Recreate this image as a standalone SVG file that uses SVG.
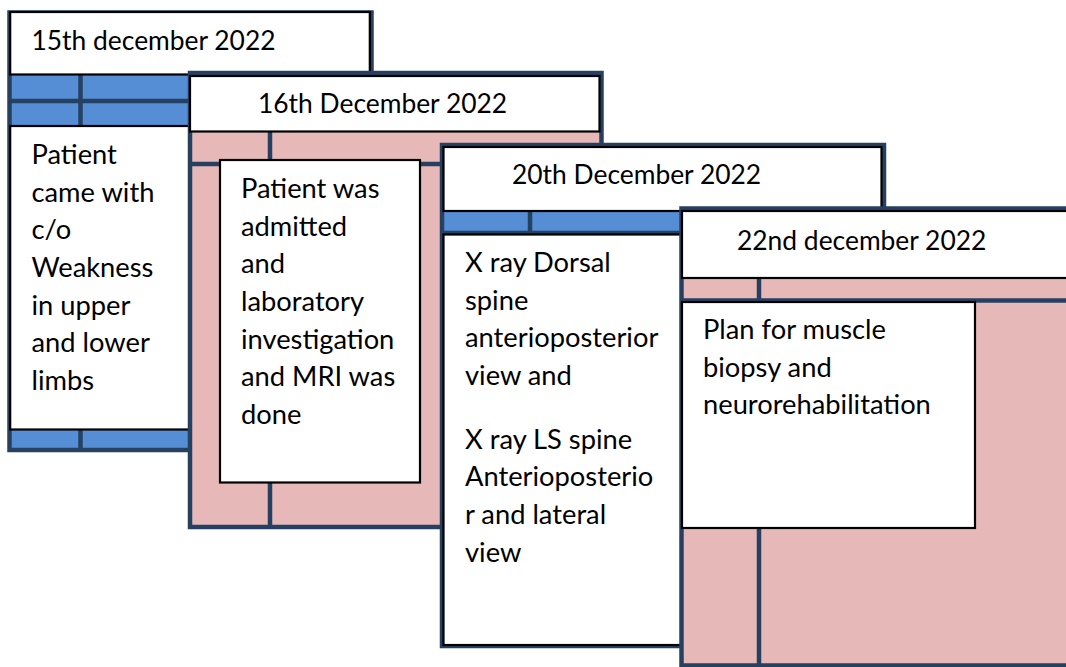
<svg xmlns="http://www.w3.org/2000/svg" width="1066" height="667" viewBox="0 0 1066 667">
<style>
.bg{stroke:#264061;stroke-width:4.5}
.blue{fill:#558ED5}
.pink{fill:#E6B8B7}
.ln{stroke:#264061;stroke-width:4.5;fill:none}
.box{fill:#FFFFFF;stroke:#000000;stroke-width:2.2}
.t{font-family:Lato,"Liberation Sans",sans-serif;font-size:27.3px;fill:#000000}
.h{font-family:Lato,"Liberation Sans",sans-serif;font-size:26.4px;fill:#000000}
</style>
<rect width="1066" height="667" fill="#FFFFFF"/>
<g id="card1">
<rect class="bg blue" x="9.5" y="12.5" width="362" height="437.5"/>
<line class="ln" x1="9.5" y1="101" x2="371.5" y2="101"/>
<line class="ln" x1="80.5" y1="75" x2="80.5" y2="450"/>
<rect class="box" x="10.2" y="12" width="359.6" height="62.5"/>
<text class="h" x="31.5" y="50">15th december 2022</text>
<rect class="box" x="10.2" y="126" width="179.3" height="303.5"/>
<text class="t" x="31.5" y="164">Patient</text>
<text class="t" x="31.5" y="201.7">came with</text>
<text class="t" x="31.5" y="239.3">c/o</text>
<text class="t" x="31.5" y="277">Weakness</text>
<text class="t" x="31.5" y="314.7">in upper</text>
<text class="t" x="31.5" y="352.3">and lower</text>
<text class="t" x="31.5" y="390">limbs</text>
</g>
<g id="card2">
<rect class="bg pink" x="190" y="73" width="411.5" height="454"/>
<line class="ln" x1="190" y1="164" x2="601.5" y2="164"/>
<line class="ln" x1="270" y1="132" x2="270" y2="527"/>
<rect class="box" x="190" y="76" width="409.5" height="55.5"/>
<text class="h" x="258" y="113">16th December 2022</text>
<rect class="box" x="220" y="160" width="200" height="322.5"/>
<text class="t" x="241" y="198">Patient was</text>
<text class="t" x="241" y="235.7">admitted</text>
<text class="t" x="241" y="273.3">and</text>
<text class="t" x="241" y="311">laboratory</text>
<text class="t" x="241" y="348.7">investigation</text>
<text class="t" x="241" y="386.3">and MRI was</text>
<text class="t" x="241" y="424">done</text>
</g>
<g id="card3">
<rect class="bg blue" x="442" y="145" width="442" height="501"/>
<line class="ln" x1="442" y1="233" x2="884" y2="233"/>
<line class="ln" x1="530" y1="212" x2="530" y2="646"/>
<rect class="box" x="443.5" y="147" width="438" height="64"/>
<text class="h" x="512" y="184">20th December 2022</text>
<rect class="box" x="443.5" y="234.5" width="238" height="410.5"/>
<text class="t" x="465" y="272">X ray Dorsal</text>
<text class="t" x="465" y="309.7">spine</text>
<text class="t" x="465" y="347.3">anterioposterior</text>
<text class="t" x="465" y="385">view and</text>
<text class="t" x="465" y="448.5">X ray LS spine</text>
<text class="t" x="465" y="486.2">Anterioposterio</text>
<text class="t" x="465" y="523.8">r and lateral</text>
<text class="t" x="465" y="561.5">view</text>
</g>
<g id="card4">
<rect class="bg pink" x="681.5" y="208.5" width="400" height="457"/>
<line class="ln" x1="681.5" y1="300.5" x2="1081.5" y2="300.5"/>
<line class="ln" x1="759" y1="278" x2="759" y2="665.5"/>
<rect class="box" x="682" y="211" width="400" height="67"/>
<text class="h" x="737" y="250">22nd december 2022</text>
<rect class="box" x="682" y="302" width="293" height="226"/>
<text class="t" x="703" y="339">Plan for muscle</text>
<text class="t" x="703" y="376.7">biopsy and</text>
<text class="t" x="703" y="414.3">neurorehabilitation</text>
</g>
</svg>
